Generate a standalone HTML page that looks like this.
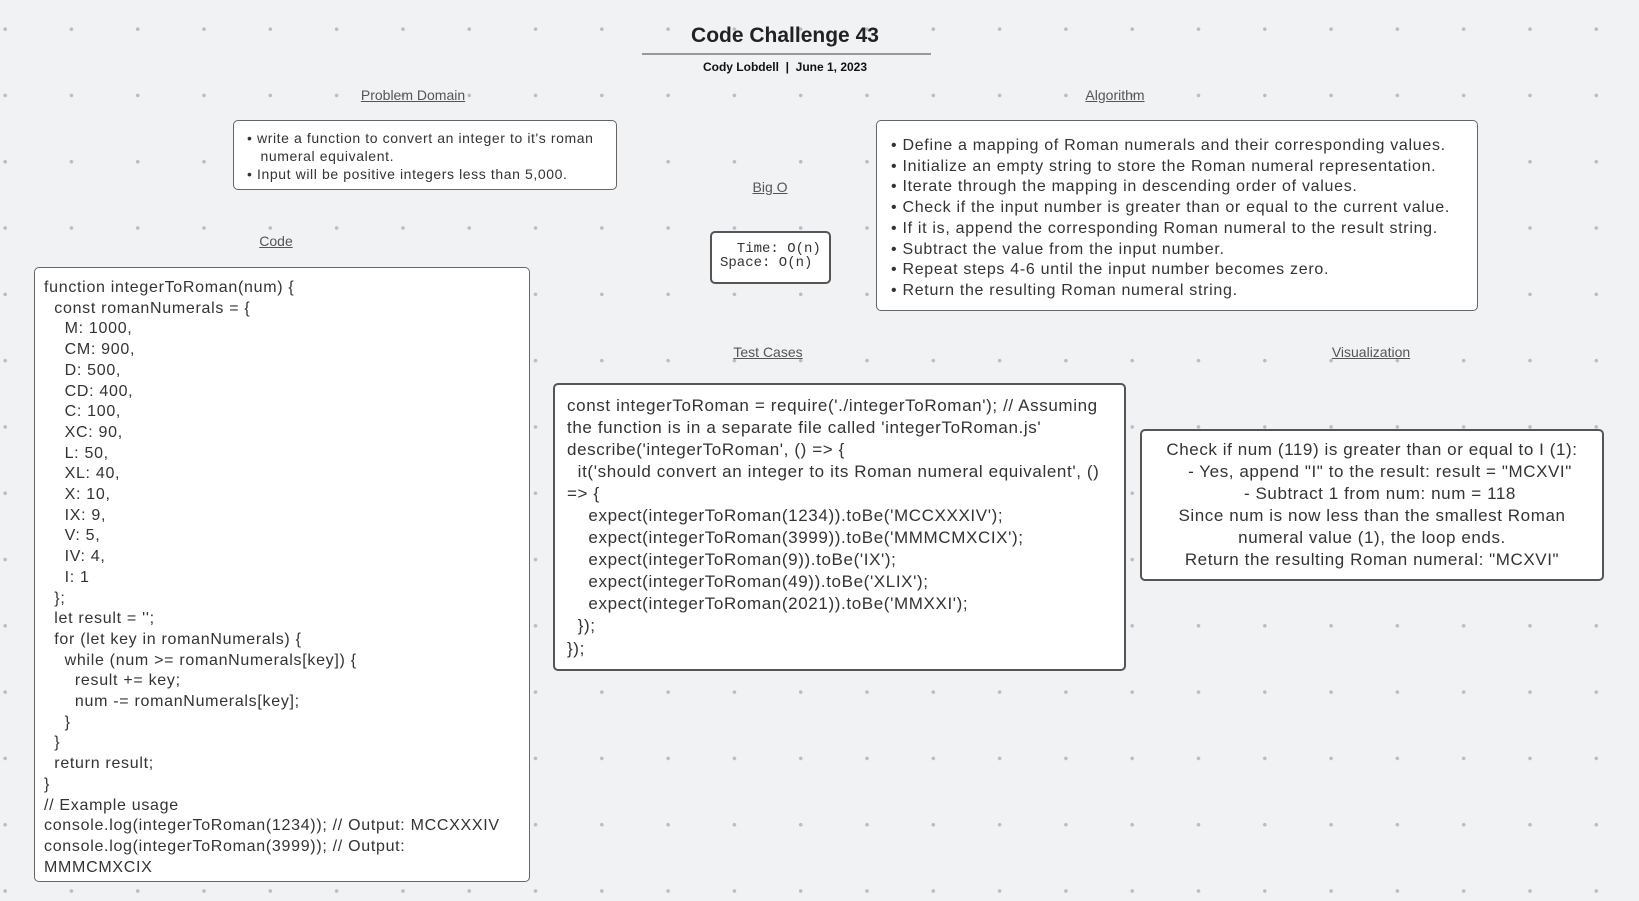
<!DOCTYPE html>
<html><head><meta charset="utf-8"><style>
*{margin:0;padding:0;box-sizing:border-box}
body{width:1639px;height:901px;overflow:hidden;background-color:#f1f2f4;
background-image:radial-gradient(circle,#b9bcc2 1.6px,transparent 2px);
background-size:66.3px 66.3px;background-position:-28px -4px;
font-family:"Liberation Sans",sans-serif;color:#333;position:relative}
.a{position:absolute}
.lbl{position:absolute;font-size:14px;color:#555;text-decoration:underline;transform:translateX(-50%);white-space:nowrap}
.box{position:absolute;background:#fff;border:1px solid #666;border-radius:5px}
.pre{white-space:pre;position:absolute}
</style></head><body>
<div class="a" style="left:0;width:1570px;top:24px;text-align:center;font-size:21px;font-weight:bold;color:#222">Code Challenge 43</div>
<div class="a" style="left:642px;top:53px;width:289px;height:1.5px;background:#999"></div>
<div class="a" style="left:0;width:1570px;top:60px;text-align:center;font-size:12px;font-weight:bold;color:#111">Cody Lobdell &nbsp;|&nbsp; June 1, 2023</div>

<div class="lbl" style="left:413px;top:87px">Problem Domain</div>
<div class="box" style="left:233px;top:120px;width:384px;height:70px"></div>
<div class="pre" style="left:247px;top:129px;font-size:14px;line-height:18px;letter-spacing:0.6px">• write a function to convert an integer to it's roman
   numeral equivalent.
• Input will be positive integers less than 5,000.</div>

<div class="lbl" style="left:770px;top:179px">Big O</div>
<div class="box" style="left:710px;top:231px;width:121px;height:53px;border:2px solid #555"></div>
<div class="pre" style="left:720px;top:242px;font-family:'Liberation Mono',monospace;font-size:14px;line-height:14px;color:#333">  Time: O(n)
Space: O(n)</div>

<div class="lbl" style="left:1115px;top:87px">Algorithm</div>
<div class="box" style="left:876px;top:120px;width:602px;height:191px"></div>
<div class="pre" style="left:891px;top:136px;font-size:16px;line-height:20.7px;letter-spacing:0.7px">• Define a mapping of Roman numerals and their corresponding values.
• Initialize an empty string to store the Roman numeral representation.
• Iterate through the mapping in descending order of values.
• Check if the input number is greater than or equal to the current value.
• If it is, append the corresponding Roman numeral to the result string.
• Subtract the value from the input number.
• Repeat steps 4-6 until the input number becomes zero.
• Return the resulting Roman numeral string.</div>

<div class="lbl" style="left:276px;top:233px">Code</div>
<div class="box" style="left:34px;top:267px;width:496px;height:615px"></div>
<div class="pre" style="left:44px;top:278px;font-size:16px;line-height:20.7px;letter-spacing:0.7px">function integerToRoman(num) {
  const romanNumerals = {
    M: 1000,
    CM: 900,
    D: 500,
    CD: 400,
    C: 100,
    XC: 90,
    L: 50,
    XL: 40,
    X: 10,
    IX: 9,
    V: 5,
    IV: 4,
    I: 1
  };
  let result = '';
  for (let key in romanNumerals) {
    while (num &gt;= romanNumerals[key]) {
      result += key;
      num -= romanNumerals[key];
    }
  }
  return result;
}
// Example usage
console.log(integerToRoman(1234)); // Output: MCCXXXIV
console.log(integerToRoman(3999)); // Output:
MMMCMXCIX</div>

<div class="lbl" style="left:768px;top:344px">Test Cases</div>
<div class="box" style="left:553px;top:383px;width:573px;height:288px;border:2px solid #555"></div>
<div class="pre" style="left:567px;top:395px;font-size:17px;line-height:22.05px;letter-spacing:0.62px">const integerToRoman = require('./integerToRoman'); // Assuming
the function is in a separate file called 'integerToRoman.js'
describe('integerToRoman', () =&gt; {
  it('should convert an integer to its Roman numeral equivalent', ()
=&gt; {
    expect(integerToRoman(1234)).toBe('MCCXXXIV');
    expect(integerToRoman(3999)).toBe('MMMCMXCIX');
    expect(integerToRoman(9)).toBe('IX');
    expect(integerToRoman(49)).toBe('XLIX');
    expect(integerToRoman(2021)).toBe('MMXXI');
  });
});</div>

<div class="lbl" style="left:1371px;top:344px">Visualization</div>
<div class="box" style="left:1140px;top:429px;width:464px;height:152px;border:2px solid #555"></div>
<div class="pre" style="left:1140px;width:464px;top:439px;text-align:center;font-size:17px;line-height:22px;letter-spacing:0.58px">Check if num (119) is greater than or equal to I (1):
   - Yes, append "I" to the result: result = "MCXVI"
   - Subtract 1 from num: num = 118
Since num is now less than the smallest Roman
numeral value (1), the loop ends.
Return the resulting Roman numeral: "MCXVI"</div>
</body></html>
